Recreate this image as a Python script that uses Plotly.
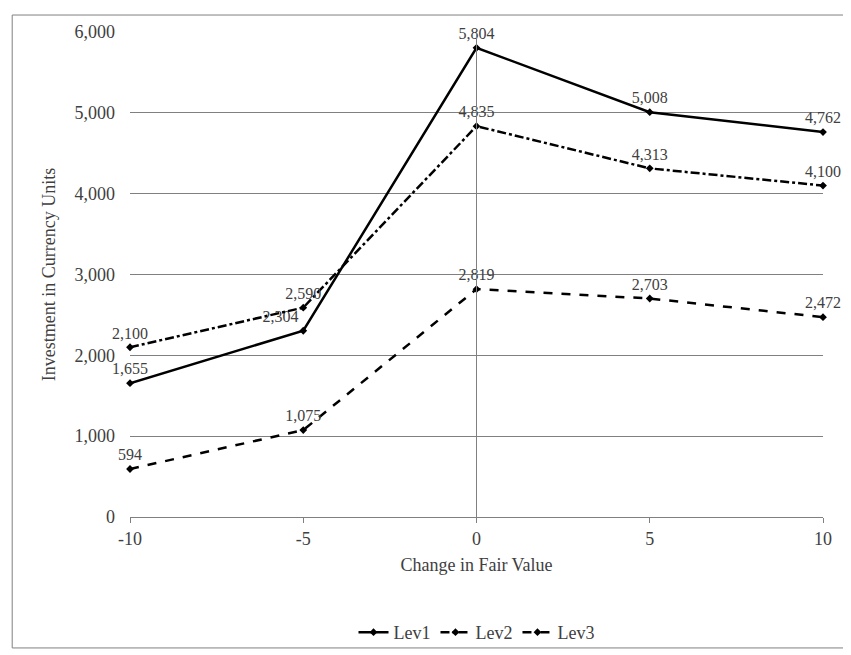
import plotly.graph_objects as go

x = [-10, -5, 0, 5, 10]
x_labels = ['-10', '-5', '0', '5', '10']
lev1 = [1655, 2304, 5804, 5008, 4762]
lev2 = [2100, 2590, 4835, 4313, 4100]
lev3 = [594, 1075, 2819, 2703, 2472]

fig = go.Figure()
for name, y, dash in [('Lev1', lev1, 'solid'), ('Lev2', lev2, 'dashdot'), ('Lev3', lev3, 'dash')]:
    pos = ['top center'] * 5
    if name == 'Lev1':
        pos[1] = 'top left'
    fig.add_trace(go.Scatter(
        x=x, y=y, name=name, mode='lines+markers+text',
        text=[f'{v:,}' for v in y], textposition=pos, cliponaxis=False,
        textfont=dict(size=16, color='#404040'),
        line=dict(color='black', width=2.5, dash=dash),
        marker=dict(symbol='diamond', size=6, color='black'),
    ))

fig.add_shape(type='line', xref='x', yref='y', x0=0, x1=0, y0=0, y1=6000,
              line=dict(color='#808080', width=1))
fig.add_shape(type='rect', xref='paper', yref='paper', x0=-0.17, x1=1.07, y0=-0.27, y1=1.035,
              line=dict(color='#808080', width=1))

fig.update_layout(
    width=851, height=655,
    margin=dict(l=122, r=36, t=24, b=135),
    paper_bgcolor='white', plot_bgcolor='white',
    font=dict(family='Liberation Serif', size=18, color='#404040'),
    showlegend=True,
    legend=dict(orientation='h', x=0.5, xanchor='center', y=-0.2, yanchor='top',
                font=dict(size=18), bgcolor='rgba(0,0,0,0)'),
    xaxis=dict(range=[-10, 10], tickvals=x, ticktext=x_labels,
               title=dict(text='Change in Fair Value', font=dict(size=18), standoff=10),
               showgrid=False, zeroline=False, showline=True, linecolor='#808080',
               ticks='outside', ticklen=5, tickcolor='#808080'),
    yaxis=dict(range=[0, 6000], dtick=1000, tickformat=',', showgrid=True, gridcolor='#808080',
               zeroline=False, showline=False, ticks='', ticklen=0, ticklabelstandoff=14,
               title=dict(text='Investment in Currency Units', font=dict(size=18), standoff=14)),
)

fig.write_html('out.html')
